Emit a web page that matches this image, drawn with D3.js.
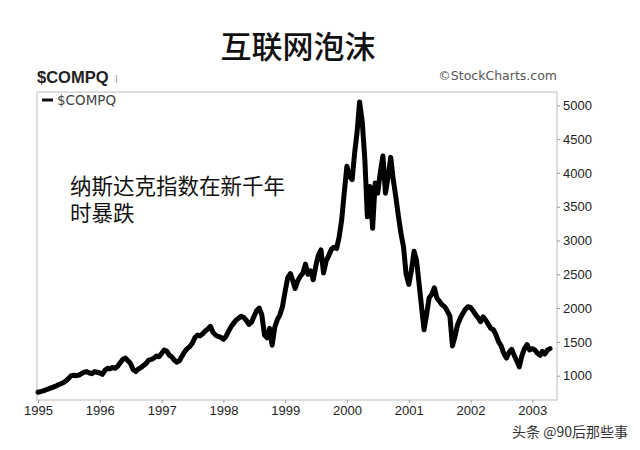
<!DOCTYPE html>
<html><head><meta charset="utf-8">
<script src="https://cdn.jsdelivr.net/npm/d3@7"></script>
<style>body{margin:0;background:#fff}svg{display:block}</style>
</head><body>
<svg id="c" width="640" height="450"></svg>
<script>
// Semi-monthly NASDAQ Composite ($COMPQ) values
const v1995 = [755, 765, 775, 790, 800, 815, 830, 845, 865, 880, 900, 925, 960, 1000, 1005, 1000, 1010, 1030, 1050, 1060, 1040, 1030, 1060, 1050];
const v1996 = [1040, 1020, 1080, 1110, 1100, 1120, 1110, 1140, 1190, 1240, 1260, 1220, 1180, 1090, 1060, 1100, 1120, 1150, 1180, 1230, 1240, 1260, 1290, 1280];
const v1997 = [1330, 1380, 1360, 1300, 1280, 1230, 1200, 1220, 1290, 1350, 1400, 1430, 1480, 1560, 1600, 1590, 1620, 1660, 1690, 1730, 1640, 1600, 1580, 1570];
const v1998 = [1540, 1580, 1660, 1730, 1770, 1820, 1850, 1880, 1860, 1820, 1760, 1790, 1880, 1960, 2000, 1900, 1600, 1560, 1700, 1450, 1720, 1830, 1900, 2020];
const v1999 = [2250, 2450, 2510, 2400, 2290, 2400, 2470, 2520, 2650, 2500, 2550, 2420, 2620, 2780, 2860, 2520, 2700, 2780, 2870, 2900, 2880, 3050, 3300, 3700];
const v2000 = [4100, 3950, 3900, 4300, 4600, 5050, 4750, 4200, 3350, 3800, 3180, 3850, 3700, 4000, 4250, 3700, 3950, 4230, 3900, 3650, 3350, 3100, 2900, 2500];
const v2001 = [2350, 2550, 2840, 2700, 2400, 2050, 1680, 1900, 2150, 2200, 2300, 2150, 2100, 2050, 2020, 1960, 1880, 1440, 1580, 1750, 1850, 1920, 1980, 2020];
const v2002 = [2010, 1960, 1900, 1850, 1800, 1870, 1820, 1760, 1700, 1680, 1600, 1500, 1440, 1330, 1260, 1340, 1390, 1300, 1220, 1130, 1300, 1400, 1460, 1380];
const v2003 = [1400, 1380, 1330, 1300, 1360, 1320, 1380, 1400];
const years = [1995, 1996, 1997, 1998, 1999, 2000, 2001, 2002, 2003];
const yearValues = [v1995, v1996, v1997, v1998, v1999, v2000, v2001, v2002, v2003];
const yTicks = [1000, 1500, 2000, 2500, 3000, 3500, 4000, 4500, 5000];
const xTickYears = [1995, 1996, 1997, 1998, 1999, 2000, 2001, 2002, 2003];
const annotationLines = ["纳斯达克指数在新千年", "时暴跌"];

const data = [];
years.forEach((y, k) => yearValues[k].forEach((v, i) => {
  data.push({date: new Date(y, Math.floor(i / 2), i % 2 ? 16 : 1), value: v});
}));

const svg = d3.select("#c");
const L = 37, R = 557, T = 92, B = 400;
const x = d3.scaleTime().domain([new Date(1994, 11, 26), new Date(2003, 4, 27)]).range([L, R]);
const y = d3.scaleLinear().domain([640, 5197]).range([B, T]);

// Title
svg.append("text").attr("x", 298).attr("y", 58).attr("text-anchor", "middle")
  .attr("font-family", "Noto Sans CJK SC").attr("font-size", 31).attr("font-weight", 500)
  .attr("fill", "#111").text("互联网泡沫");

// Header
svg.append("text").attr("x", 37).attr("y", 83).attr("font-family", "Liberation Sans")
  .attr("font-size", 16.5).attr("font-weight", "bold").attr("fill", "#222").text("$COMPQ");
svg.append("text").attr("x", 115).attr("y", 83).attr("font-family", "Liberation Sans")
  .attr("font-size", 10).attr("fill", "#999").text("I");
svg.append("text").attr("x", 557).attr("y", 80).attr("text-anchor", "end")
  .attr("font-family", "DejaVu Sans, Liberation Sans").attr("font-size", 12.5).attr("fill", "#555")
  .text("©StockCharts.com");

// Frame
svg.append("rect").attr("x", L).attr("y", T).attr("width", R - L).attr("height", B - T)
  .attr("fill", "none").attr("stroke", "#bdbdbd").attr("stroke-width", 1);

// Right axis
const yAxis = svg.append("g").attr("transform", `translate(${R},0)`)
  .call(d3.axisRight(y).tickValues(yTicks).tickSize(3).tickPadding(3).tickFormat(d3.format("d")));
yAxis.select(".domain").remove();
yAxis.selectAll("line").attr("stroke", "#999");
yAxis.selectAll("text").attr("font-family", "Liberation Sans").attr("font-size", 13).attr("fill", "#222");

// Bottom axis
const xAxis = svg.append("g").attr("transform", `translate(0,${B})`)
  .call(d3.axisBottom(x).tickValues(xTickYears.map(yy => new Date(yy, 0, 1))).tickSize(3).tickPadding(3)
    .tickFormat(d3.timeFormat("%Y")));
xAxis.select(".domain").remove();
xAxis.selectAll("line").attr("stroke", "#999");
xAxis.selectAll("text").attr("font-family", "Liberation Sans").attr("font-size", 13).attr("fill", "#222");

// Legend
svg.append("line").attr("x1", 42).attr("x2", 53).attr("y1", 100).attr("y2", 100)
  .attr("stroke", "#111").attr("stroke-width", 3);
svg.append("text").attr("x", 57).attr("y", 105).attr("font-family", "DejaVu Sans, Liberation Sans")
  .attr("font-size", 13.5).attr("fill", "#444").text("$COMPQ");

// Line
const line = d3.line().x(d => x(d.date)).y(d => y(d.value)).curve(d3.curveLinear);
svg.append("path").datum(data).attr("d", line).attr("fill", "none")
  .attr("stroke", "#000").attr("stroke-width", 5).attr("stroke-linejoin", "round").attr("stroke-linecap", "round");

// Annotation
annotationLines.forEach((t, i) => {
  svg.append("text").attr("x", 70).attr("y", 194 + i * 27)
    .attr("font-family", "Noto Sans CJK SC").attr("font-size", 21.5).attr("fill", "#111").text(t);
});

// Watermark
svg.append("text").attr("x", 628).attr("y", 437).attr("text-anchor", "end")
  .attr("font-family", "Noto Sans CJK SC").attr("font-size", 14).attr("fill", "#333")
  .text("头条 @90后那些事");
</script>
</body></html>
